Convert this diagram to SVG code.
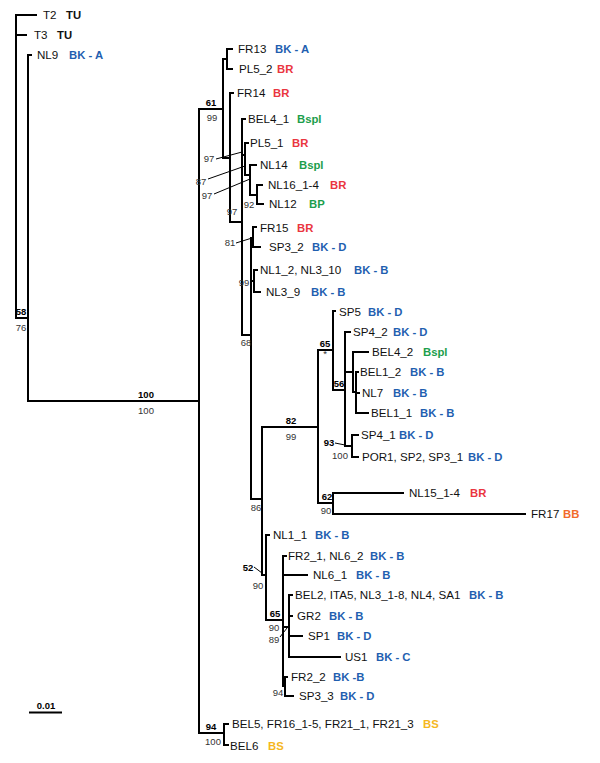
<svg xmlns="http://www.w3.org/2000/svg" width="600" height="763" viewBox="0 0 600 763">
<style>
.br{fill:none;stroke:#000;stroke-width:2;stroke-linecap:square}
.ld{fill:none;stroke:#000;stroke-width:1}
text{font-family:"Liberation Sans",Arial,sans-serif}
.n{font-size:11.6px;fill:#111}
.c{font-size:11.3px;font-weight:bold}
.tu{fill:#111}
.bk{fill:#1f5fb0}
.brr{fill:#ea3540}
.gr{fill:#1c9e4c}
.bb{fill:#f26a2c}
.bs{fill:#f5b71e}
.s{font-size:9.5px;fill:#333;text-anchor:middle}
.sb{font-size:9.5px;font-weight:bold;fill:#000;text-anchor:middle}
</style>
<rect width="600" height="763" fill="#fff"/>
<g id="connectors">
<path class="br" d="M16 15V318M16 15H36M16 35H26M16 318H28M28 55V401M28 55H31M28 401H199M199 109V733M199 109H223"/>
<path class="br" d="M223 59V158M223 59H227M227 49V69M227 49H232M227 69H232M223 158H230M230 93V222M230 93H233M230 222H242"/>
<path class="br" d="M242 119V335M242 119H245M242 155H245M245 143V175M245 143H248M245 175H250M250 165V195M250 165H256M250 195H257M257 185V204M257 185H262M257 204H263"/>
<path class="br" d="M242 335H251M251 238V499M251 238H253M253 227V247M253 227H256M253 247H260M251 281H254M254 270V292M254 270H257M254 292H260M251 499H262"/>
<path class="br" d="M262 427V575M262 427H318M318 350V503M318 350H333M333 311V390M333 311H335M333 390H345M345 332V446M345 332H350M345 372H353M353 352V392M353 352H368M353 392H356M356 372V413M356 372H358M356 393H359M356 413H368M345 446H352M352 435V457M352 435H358M352 457H358"/>
<path class="br" d="M318 503H333M333 493V514M333 493H403M333 514H525"/>
<path class="br" d="M262 575H266M266 535V620M266 535H269M266 620H283M283 556V686M283 556H286M283 575H307M283 627H289M289 595V657M289 595H292M289 616H292M289 636H302M289 657H340M283 686H285M285 677V696M285 677H287M285 696H293"/>
<path class="br" d="M199 733H224M224 724V745M224 724H228M224 745H228"/>
<path class="br" d="M30 712.5H61"/>
<path class="ld" d="M216 159L242 152M208 179L245 166M214 194L250 179M236 243L252 238M335 443L345 445M254 567L262 573M280 637L287 628"/>
</g>
<g id="support">
<text class="sb" x="21" y="315">58</text><text class="s" x="21" y="331">76</text>
<text class="sb" x="146" y="398">100</text><text class="s" x="146" y="414">100</text>
<text class="sb" x="211" y="106">61</text><text class="s" x="212" y="121">99</text>
<text class="s" x="209" y="162">97</text>
<text class="s" x="201" y="185">87</text>
<text class="s" x="207" y="199">97</text>
<text class="s" x="249" y="208">92</text>
<text class="s" x="232" y="215">97</text>
<text class="s" x="230" y="246">81</text>
<text class="s" x="244" y="286">99</text>
<text class="s" x="246" y="346">68</text>
<text class="s" x="256" y="511">86</text>
<text class="sb" x="291" y="424">82</text><text class="s" x="291" y="440">99</text>
<text class="sb" x="325" y="347">65</text><text class="s" x="325" y="357">*</text>
<text class="sb" x="339" y="387">56</text>
<text class="sb" x="329" y="446">93</text>
<text class="s" x="340" y="459">100</text>
<text class="sb" x="327" y="500">62</text><text class="s" x="326" y="514">90</text>
<text class="sb" x="248" y="571">52</text><text class="s" x="258" y="589">90</text>
<text class="sb" x="275" y="617">65</text><text class="s" x="274" y="631">90</text><text class="s" x="274" y="643">89</text>
<text class="s" x="278" y="696">94</text>
<text class="sb" x="211" y="730">94</text><text class="s" x="213" y="745">100</text>
<text class="sb" x="46" y="709">0.01</text>
</g>
<g id="T2"><text class="n" x="43" y="19">T2</text><text class="c tu" x="66" y="19">TU</text></g>
<g id="T3"><text class="n" x="34" y="39">T3</text><text class="c tu" x="57" y="39">TU</text></g>
<g id="NL9"><text class="n" x="37" y="59">NL9</text><text class="c bk" x="69" y="59">BK - A</text></g>
<g id="FR13"><text class="n" x="238" y="53">FR13</text><text class="c bk" x="275" y="53">BK - A</text></g>
<g id="PL5_2"><text class="n" x="239" y="73">PL5_2</text><text class="c brr" x="277" y="73">BR</text></g>
<g id="FR14"><text class="n" x="237" y="97">FR14</text><text class="c brr" x="273" y="97">BR</text></g>
<g id="BEL4_1"><text class="n" x="248" y="123">BEL4_1</text><text class="c gr" x="297" y="123">Bspl</text></g>
<g id="PL5_1"><text class="n" x="250" y="147">PL5_1</text><text class="c brr" x="292" y="147">BR</text></g>
<g id="NL14"><text class="n" x="260" y="169">NL14</text><text class="c gr" x="299" y="169">Bspl</text></g>
<g id="NL16"><text class="n" x="268" y="189">NL16_1-4</text><text class="c brr" x="330" y="189">BR</text></g>
<g id="NL12"><text class="n" x="269" y="208">NL12</text><text class="c gr" x="309" y="208">BP</text></g>
<g id="FR15"><text class="n" x="260" y="232">FR15</text><text class="c brr" x="297" y="232">BR</text></g>
<g id="SP3_2"><text class="n" x="269" y="251">SP3_2</text><text class="c bk" x="312" y="251">BK - D</text></g>
<g id="NL1_2"><text class="n" x="260" y="274">NL1_2, NL3_10</text><text class="c bk" x="354" y="274">BK - B</text></g>
<g id="NL3_9"><text class="n" x="266" y="296">NL3_9</text><text class="c bk" x="311" y="296">BK - B</text></g>
<g id="SP5"><text class="n" x="339" y="316">SP5</text><text class="c bk" x="368" y="316">BK - D</text></g>
<g id="SP4_2"><text class="n" x="353" y="336">SP4_2</text><text class="c bk" x="393" y="336">BK - D</text></g>
<g id="BEL4_2"><text class="n" x="372" y="356">BEL4_2</text><text class="c gr" x="423" y="356">Bspl</text></g>
<g id="BEL1_2"><text class="n" x="360" y="376">BEL1_2</text><text class="c bk" x="410" y="376">BK - B</text></g>
<g id="NL7"><text class="n" x="362" y="397">NL7</text><text class="c bk" x="393" y="397">BK - B</text></g>
<g id="BEL1_1"><text class="n" x="371" y="417">BEL1_1</text><text class="c bk" x="420" y="417">BK - B</text></g>
<g id="SP4_1"><text class="n" x="361" y="439">SP4_1</text><text class="c bk" x="399" y="439">BK - D</text></g>
<g id="POR1"><text class="n" x="362" y="461">POR1, SP2, SP3_1</text><text class="c bk" x="468" y="461">BK - D</text></g>
<g id="NL15"><text class="n" x="409" y="497">NL15_1-4</text><text class="c brr" x="470" y="497">BR</text></g>
<g id="FR17"><text class="n" x="531" y="518">FR17</text><text class="c bb" x="563" y="518">BB</text></g>
<g id="NL1_1"><text class="n" x="273" y="539">NL1_1</text><text class="c bk" x="315" y="539">BK - B</text></g>
<g id="FR2_1"><text class="n" x="288" y="560">FR2_1, NL6_2</text><text class="c bk" x="370" y="560">BK - B</text></g>
<g id="NL6_1"><text class="n" x="313" y="579">NL6_1</text><text class="c bk" x="356" y="579">BK - B</text></g>
<g id="BEL2"><text class="n" x="295" y="599">BEL2, ITA5, NL3_1-8, NL4, SA1</text><text class="c bk" x="469" y="599">BK - B</text></g>
<g id="GR2"><text class="n" x="297" y="620">GR2</text><text class="c bk" x="329" y="620">BK - B</text></g>
<g id="SP1"><text class="n" x="308" y="640">SP1</text><text class="c bk" x="337" y="640">BK - D</text></g>
<g id="US1"><text class="n" x="345" y="661">US1</text><text class="c bk" x="376" y="661">BK - C</text></g>
<g id="FR2_2"><text class="n" x="291" y="681">FR2_2</text><text class="c bk" x="333" y="681">BK -B</text></g>
<g id="SP3_3"><text class="n" x="299" y="700">SP3_3</text><text class="c bk" x="340" y="700">BK - D</text></g>
<g id="BEL5"><text class="n" x="232" y="728">BEL5, FR16_1-5, FR21_1, FR21_3</text><text class="c bs" x="423" y="728">BS</text></g>
<g id="BEL6"><text class="n" x="230" y="750">BEL6</text><text class="c bs" x="268" y="750">BS</text></g>
</svg>
